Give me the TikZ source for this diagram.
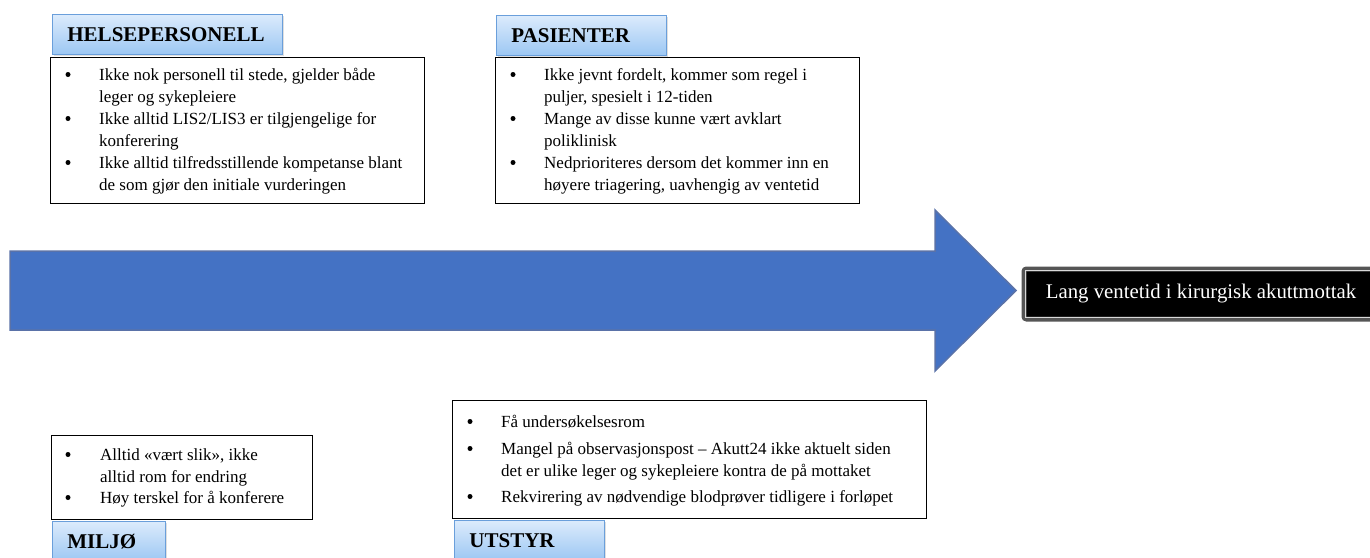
\documentclass[tikz,border=0pt]{standalone}
\usepackage{fontspec}
\setmainfont{Liberation Serif}
\usetikzlibrary{shadows}
\definecolor{arrowblue}{HTML}{4472C4}
\definecolor{arrowedge}{HTML}{5A72A8}
\definecolor{hdtop}{HTML}{DCEBFC}
\definecolor{hdbot}{HTML}{9CC7F3}
\definecolor{hdedge}{HTML}{6A9FDB}
\definecolor{resedge}{HTML}{555555}
\begin{document}
\begin{tikzpicture}[x=1pt,y=-1pt,
  hdr/.style={draw=hdedge, line width=0.8pt, top color=hdtop, bottom color=hdbot,
    drop shadow={opacity=0.25, shadow xshift=1.5pt, shadow yshift=-1.5pt},
    anchor=north west, minimum height=40pt, inner xsep=15pt, inner ysep=0pt,
    align=left, font=\fontsize{21}{25}\selectfont\bfseries},
  cbox/.style={draw=black, line width=1.2pt, fill=white, anchor=north west, inner sep=0pt},
  txt/.style={anchor=base west, inner sep=0pt, font=\fontsize{17}{22}\selectfont},
  bul/.style={circle, fill=black, inner sep=0pt, minimum size=5pt, yshift=5.5pt},
  result/.style={draw=resedge, line width=5pt, fill=black, rounded corners=2.5pt, text=white,
    minimum width=354pt, minimum height=50pt, inner sep=0pt, font=\fontsize{20.8}{24}\selectfont},
  bigarrow/.style={fill=arrowblue, draw=arrowedge, line width=1.5pt, line join=miter}
]
\useasboundingbox (0,0) rectangle (1370,557);
\clip (0,0) rectangle (1370,557);

% big arrow
\coordinate (a0) at (10,251);
\coordinate (tip) at (1016,290.5);
\draw[bigarrow] (a0) -- (935,251) -- (935,210) -- (tip) -- (935,371) -- (935,330) -- (10,330) -- cycle;

% result
\node[result] (res) at (1201,294) {Lang ventetid i kirurgisk akuttmottak};
\draw[white!70!gray, line width=0.7pt] ([shift={(4,4)}]res.north west) rectangle ([shift={(-4,-4)}]res.south east);

% HELSEPERSONELL
\node[hdr, minimum width=230pt, text width=200pt] (hph) at (52,14) {HELSEPERSONELL};
\node[cbox, minimum width=374pt, minimum height=146pt] (hp) at (50,57) {};
\node[bul] (hpb1) at (68,80) {};
\node[txt] (hp1) at (99,80) {Ikke nok personell til stede, gjelder både};
\node[txt] (hp2) at (99,102) {leger og sykepleiere};
\node[bul] (hpb2) at (68,124) {};
\node[txt] (hp3) at (99,124) {Ikke alltid LIS2/LIS3 er tilgjengelige for};
\node[txt] (hp4) at (99,146) {konferering};
\node[bul] (hpb3) at (68,168) {};
\node[txt] (hp5) at (99,168) {Ikke alltid tilfredsstillende kompetanse blant};
\node[txt] (hp6) at (99,190) {de som gjør den initiale vurderingen};

% PASIENTER
\node[hdr, minimum width=170pt, text width=140pt] (pah) at (496,15) {PASIENTER};
\node[cbox, minimum width=364pt, minimum height=146pt] (pa) at (495,57) {};
\node[bul] (pab1) at (513,80) {};
\node[txt] (pa1) at (544,80) {Ikke jevnt fordelt, kommer som regel i};
\node[txt] (pa2) at (544,102) {puljer, spesielt i 12-tiden};
\node[bul] (pab2) at (513,124) {};
\node[txt] (pa3) at (544,124) {Mange av disse kunne vært avklart};
\node[txt] (pa4) at (544,146) {poliklinisk};
\node[bul] (pab3) at (513,168) {};
\node[txt] (pa5) at (544,168) {Nedprioriteres dersom det kommer inn en};
\node[txt] (pa6) at (544,190) {høyere triagering, uavhengig av ventetid};

% MILJØ
\node[cbox, minimum width=261pt, minimum height=84pt] (mi) at (51,435) {};
\node[bul] (mib1) at (68,460) {};
\node[txt] (mi1) at (100,460) {Alltid «vært slik», ikke};
\node[txt] (mi2) at (100,482) {alltid rom for endring};
\node[bul] (mib2) at (68,503) {};
\node[txt] (mi3) at (100,503) {Høy terskel for å konferere};
\node[hdr, minimum width=113pt, text width=83pt] (mih) at (52,521) {MILJØ};

% UTSTYR
\node[cbox, minimum width=474pt, minimum height=118pt] (ut) at (452,400) {};
\node[bul] (utb1) at (470,427) {};
\node[txt] (ut1) at (501,427) {Få undersøkelsesrom};
\node[bul] (utb2) at (470,454) {};
\node[txt] (ut2) at (501,454) {Mangel på observasjonspost – Akutt24 ikke aktuelt siden};
\node[txt] (ut3) at (501,476) {det er ulike leger og sykepleiere kontra de på mottaket};
\node[bul] (utb3) at (470,502) {};
\node[txt] (ut4) at (501,502) {Rekvirering av nødvendige blodprøver tidligere i forløpet};
\node[hdr, minimum width=150pt, text width=120pt] (uth) at (454,520) {UTSTYR};
\end{tikzpicture}
\end{document}
